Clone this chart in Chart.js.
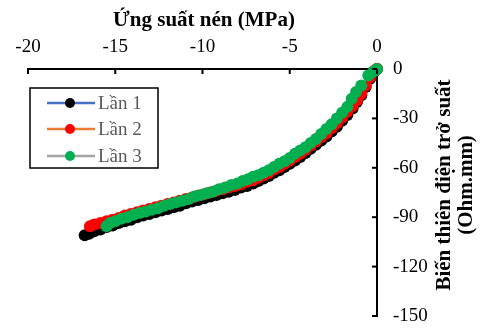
<!DOCTYPE html>
<html>
<head>
<meta charset="utf-8">
<script src="https://cdn.jsdelivr.net/npm/chart.js@4/dist/chart.umd.min.js"></script>
<style>
html,body{margin:0;padding:0;background:#fff;}
#wrap{width:483px;height:329px;position:relative;}
</style>
</head>
<body>
<div id="wrap"><canvas id="c" width="483" height="329"></canvas></div>
<script>
const xTitle = "Ứng suất nén (MPa)";
const yTitleLines = ["Biến thiên điện trở suất", "(Ohm.mm)"];
const seriesNames = ["Lần 1", "Lần 2", "Lần 3"];

const x1 = [0,-0.15,-0.4,-0.65,-0.9,-1.15,-1.4,-1.7,-2.0,-2.3,-2.6,-2.9,-3.2,-3.5,-3.8,-4.1,-4.4,-4.7,-5.0,-5.3,-5.6,-5.9,-6.2,-6.5,-6.8,-7.1,-7.45,-7.8,-8.15,-8.5,-8.85,-9.2,-9.55,-9.9,-10.25,-10.6,-10.95,-11.3,-11.65,-12.0,-12.35,-12.7,-13.05,-13.4,-13.75,-14.1,-14.45,-14.8,-15.15,-15.5,-15.85,-16.2,-16.5,-16.75];
const y1 = [0,-1.5,-6,-11,-16,-20,-24,-28,-31.5,-35,-38,-41,-43.5,-46,-48.5,-51,-53.5,-55.5,-57.5,-59.5,-61.5,-63,-65,-66.5,-68,-69.5,-71,-72,-73.5,-74.5,-75.5,-76.5,-77.5,-78.5,-79.5,-80.5,-81.5,-83,-84,-85,-86,-87,-88,-89,-90,-91.5,-92.5,-93.5,-95,-96,-97.5,-98.5,-100,-101];

const x2 = [0,-0.15,-0.4,-0.65,-0.9,-1.15,-1.4,-1.7,-2.0,-2.3,-2.6,-2.9,-3.2,-3.5,-3.8,-4.1,-4.4,-4.7,-5.0,-5.3,-5.6,-5.9,-6.2,-6.5,-6.8,-7.1,-7.45,-7.8,-8.15,-8.5,-8.85,-9.2,-9.55,-9.9,-10.25,-10.6,-10.95,-11.3,-11.65,-12.0,-12.35,-12.7,-13.05,-13.4,-13.75,-14.1,-14.45,-14.8,-15.15,-15.5,-15.85,-16.2,-16.45];
const y2 = [0,-1,-5,-10,-15,-19,-22.5,-26,-29.5,-33,-36,-39,-41.5,-44,-46.5,-49,-51.5,-53.5,-55.5,-57.5,-59.5,-61,-63,-64.5,-66,-67.5,-68.5,-70,-71,-72,-73,-74,-75,-76,-77,-78,-79,-80,-81,-82,-83,-84,-85,-86,-87,-88,-89,-90.5,-91.5,-92.5,-93.5,-94.5,-95.5];

const x3 = [0,-0.2,-0.5,-0.9,-1.2,-1.45,-1.7,-2.0,-2.3,-2.6,-2.9,-3.2,-3.5,-3.8,-4.1,-4.4,-4.7,-5.0,-5.3,-5.6,-5.9,-6.2,-6.5,-6.8,-7.1,-7.4,-7.7,-8.0,-8.35,-8.7,-9.05,-9.4,-9.75,-10.1,-10.45,-10.8,-11.15,-11.5,-11.85,-12.2,-12.55,-12.9,-13.25,-13.6,-13.95,-14.3,-14.65,-15.0,-15.3,-15.5];
const y3 = [0,-1.5,-4,-10,-14,-18,-23,-26.5,-30,-33.5,-36.5,-39.5,-42.5,-45,-47.5,-49.5,-51.5,-54,-56,-57.5,-59.5,-61.5,-63,-64.5,-65.5,-67,-68,-69.5,-70.5,-72,-73,-74.5,-75.5,-76.5,-77.5,-79,-80,-81,-82,-83,-84.5,-85.5,-86.5,-87.5,-88.5,-90,-91,-92.5,-93.5,-95.5];

const xTicks = [-20,-15,-10,-5,0];
const yTicks = [0,-30,-60,-90,-120,-150];

const lineColors = ['#4472C4','#ED7D31','#A5A5A5'];
const markerColors = ['#000000','#FF0000','#00B050'];

function pts(xs, ys){ return xs.map((v,i)=>({x:v,y:ys[i]})); }

const serif = "'Liberation Serif','Times New Roman',serif";

const overlay = {
  id:'overlay',
  afterDraw(chart){
    const ctx = chart.ctx, xs = chart.scales.x, ys = chart.scales.y;
    ctx.save();
    ctx.strokeStyle='#000'; ctx.lineWidth=2;
    xs.ticks.forEach(t=>{
      const px = xs.getPixelForValue(t.value);
      ctx.beginPath(); ctx.moveTo(px, ys.top); ctx.lineTo(px, ys.top+5); ctx.stroke();
    });
    ys.ticks.forEach(t=>{
      const py = ys.getPixelForValue(t.value);
      ctx.beginPath(); ctx.moveTo(xs.right-5, py); ctx.lineTo(xs.right, py); ctx.stroke();
    });
    ctx.fillStyle='#000';
    ctx.font = "bold 21px " + serif;
    ctx.textAlign='center'; ctx.textBaseline='middle';
    ctx.fillText(xTitle, 204, 21);
    ctx.save();
    ctx.translate(445, 185);
    ctx.rotate(-Math.PI/2);
    ctx.font = "bold 21px " + serif;
    ctx.fillText(yTitleLines[0], 0, 0);
    ctx.fillText(yTitleLines[1], 0, 22);
    ctx.restore();
    const bx=30, by=88, bw=128, bh=80;
    ctx.fillStyle='#fff'; ctx.fillRect(bx,by,bw,bh);
    ctx.strokeStyle='#000'; ctx.lineWidth=1.5; ctx.strokeRect(bx,by,bw,bh);
    const rows=[103,129,156];
    ctx.font = "19px " + serif;
    ctx.textAlign='left'; ctx.textBaseline='middle';
    seriesNames.forEach((n,i)=>{
      const y=rows[i];
      ctx.strokeStyle=lineColors[i]; ctx.lineWidth=2.5;
      ctx.beginPath(); ctx.moveTo(47,y); ctx.lineTo(95,y); ctx.stroke();
      ctx.fillStyle=markerColors[i];
      ctx.beginPath(); ctx.arc(70,y,5,0,Math.PI*2); ctx.fill();
      ctx.fillStyle='#595959';
      ctx.fillText(n, 98, y+1);
    });
    ctx.restore();
  }
};

const datasets = [
  {label:seriesNames[0], data:pts(x1,y1), order:2},
  {label:seriesNames[1], data:pts(x2,y2), order:1},
  {label:seriesNames[2], data:pts(x3,y3), order:0}
].map((d,i)=>Object.assign(d,{
  borderColor:lineColors[i], borderWidth:2,
  pointBackgroundColor:markerColors[i], pointBorderColor:markerColors[i],
  pointRadius:6, pointBorderWidth:0, pointHoverRadius:6,
  showLine:true, clip:false, tension:0
}));

new Chart(document.getElementById('c'), {
  type:'scatter',
  data:{datasets},
  options:{
    responsive:false, animation:false, devicePixelRatio:1,
    layout:{padding:{left:28, right:0, top:0, bottom:13}},
    plugins:{legend:{display:false}, tooltip:{enabled:false}},
    scales:{
      x:{
        type:'linear', position:'top', min:-20, max:0,
        afterBuildTicks(s){ s.ticks = xTicks.map(v=>({value:v})); },
        afterFit(s){ s.height = 69; s.paddingLeft = 0; s.paddingRight = 0; },
        grid:{display:true, drawOnChartArea:false, drawTicks:true, tickLength:6, color:'rgba(0,0,0,0)'},
        border:{display:true, color:'#000', width:2},
        ticks:{padding:5, color:'#000', font:{family:serif, size:19}, maxRotation:0, autoSkip:false}
      },
      y:{
        type:'linear', position:'right', min:-150, max:0,
        afterBuildTicks(s){ s.ticks = yTicks.map(v=>({value:v})); },
        afterFit(s){ s.width = 106; s.paddingTop = 0; s.paddingBottom = 0; },
        grid:{display:true, drawOnChartArea:false, drawTicks:true, tickLength:6, color:'rgba(0,0,0,0)'},
        border:{display:true, color:'#000', width:2},
        ticks:{padding:10, color:'#000', font:{family:serif, size:19}, autoSkip:false}
      }
    }
  },
  plugins:[overlay]
});
</script>
</body>
</html>
